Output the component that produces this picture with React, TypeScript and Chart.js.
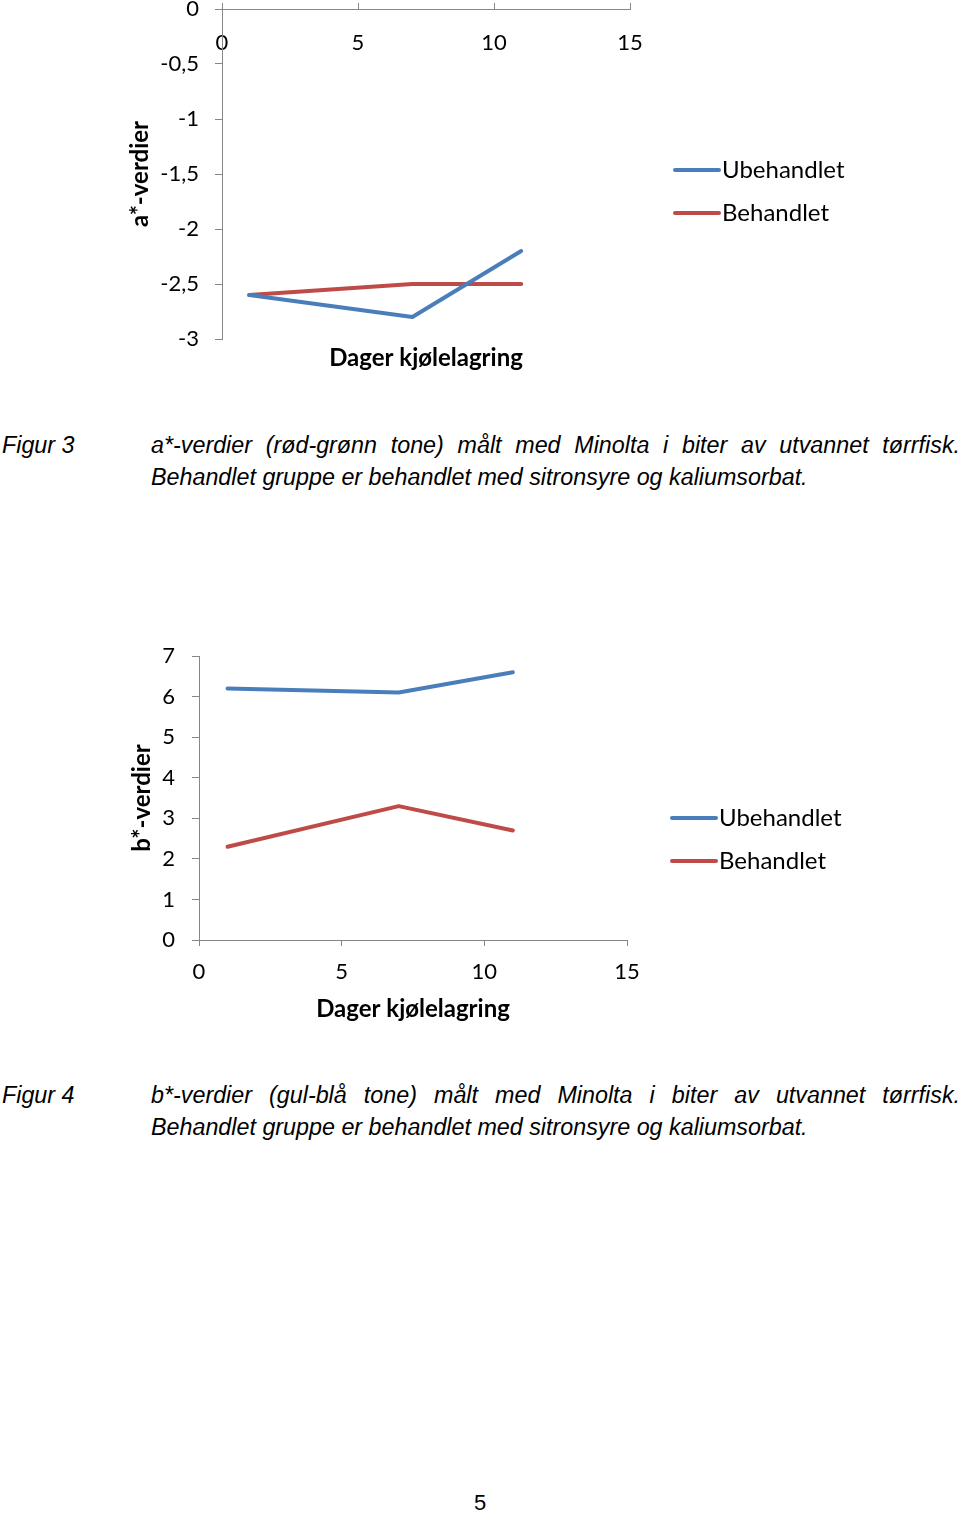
import React, { useEffect, useRef } from "react";
import { Chart, registerables } from "chart.js";

Chart.register(...registerables);

const days = [1, 7, 11];
const aUbehandlet = [-2.6, -2.8, -2.2];
const aBehandlet = [-2.6, -2.5, -2.5];
const bUbehandlet = [6.2, 6.1, 6.6];
const bBehandlet = [2.3, 3.3, 2.7];
const seriesNames = ["Ubehandlet", "Behandlet"];
const xTitle = "Dager kjølelagring";
const aTitle = "a*-verdier";
const bTitle = "b*-verdier";
const xTickValues = [0, 5, 10, 15];

const BLUE = "#4a7ebb";
const RED = "#be4b48";
const AXIS = "#868686";
const FONT = "Lato, 'Open Sans', sans-serif";

const fmt = (v: any) => String(v).replace(".", ",");

function legendPlugin(lx: number, y1: number, gap: number) {
  return {
    id: "customLegend",
    afterDraw(chart: any) {
      const ctx = chart.ctx;
      ctx.save();
      chart.data.datasets.forEach((ds: any, i: number) => {
        const y = y1 + i * gap;
        ctx.strokeStyle = ds.borderColor;
        ctx.lineWidth = 4;
        ctx.lineCap = "round";
        ctx.beginPath();
        ctx.moveTo(lx, y);
        ctx.lineTo(lx + 44, y);
        ctx.stroke();
        ctx.fillStyle = "#000";
        ctx.font = `24px ${FONT}`;
        ctx.textBaseline = "middle";
        ctx.textAlign = "left";
        ctx.fillText(ds.label, lx + 47, y);
      });
      ctx.restore();
    },
  };
}

function mkData(u: number[], b: number[]) {
  return {
    datasets: [
      {
        label: seriesNames[0],
        data: days.map((d, i) => ({ x: d, y: u[i] })),
        borderColor: BLUE,
        backgroundColor: BLUE,
        borderWidth: 4,
        pointRadius: 0,
        borderCapStyle: "round",
        borderJoinStyle: "round",
        clip: false,
      },
      {
        label: seriesNames[1],
        data: days.map((d, i) => ({ x: d, y: b[i] })),
        borderColor: RED,
        backgroundColor: RED,
        borderWidth: 4,
        pointRadius: 0,
        borderCapStyle: "round",
        borderJoinStyle: "round",
        clip: false,
      },
    ],
  };
}

const tickFont = { family: FONT, size: 22, lineHeight: 1.2 };
const titleFont = { family: FONT, size: 24, weight: "bold", lineHeight: 1.2 };

const zeroPad = (s: any) => {
  s.paddingTop = 0;
  s.paddingBottom = 0;
  s.paddingLeft = 0;
  s.paddingRight = 0;
};

function ChartA() {
  const ref = useRef<HTMLCanvasElement>(null);
  useEffect(() => {
    const chart = new Chart(ref.current!, {
      type: "line",
      data: mkData(aUbehandlet, aBehandlet) as any,
      options: {
        animation: false,
        responsive: false,
        maintainAspectRatio: false,
        layout: { padding: { left: 126, top: 0, right: 330, bottom: 7 } },
        plugins: { legend: { display: false }, tooltip: { enabled: false } },
        scales: {
          x: {
            type: "linear",
            position: "top",
            min: 0,
            max: 15,
            afterBuildTicks: (s: any) => {
              s.ticks = xTickValues.map((v) => ({ value: v }));
            },
            afterFit: (s: any) => {
              s.height = 9;
              zeroPad(s);
            },
            ticks: { mirror: true, padding: 21, color: "#000", font: tickFont, maxRotation: 0 },
            grid: { drawOnChartArea: false, tickLength: 6, color: AXIS },
            border: { color: AXIS, width: 1 },
          },
          x2: {
            type: "linear",
            position: "bottom",
            min: 0,
            max: 15,
            afterFit: (s: any) => {
              s.height = 34;
              zeroPad(s);
            },
            ticks: { display: false },
            grid: { display: false },
            border: { display: false },
            title: { display: true, text: xTitle, color: "#000", font: titleFont, padding: 0 },
          },
          y: {
            type: "linear",
            position: "left",
            min: -3,
            max: 0,
            ticks: { stepSize: 0.5, padding: 16, color: "#000", font: tickFont, callback: fmt },
            afterFit: (s: any) => {
              s.width = 96;
              zeroPad(s);
            },
            grid: { drawOnChartArea: false, tickLength: 7, color: AXIS },
            border: { color: AXIS, width: 1 },
            title: { display: true, text: aTitle, color: "#000", font: titleFont, padding: 0 },
          },
        },
      } as any,
      plugins: [legendPlugin(675, 170, 43)],
    });
    return () => chart.destroy();
  }, []);
  return (
    <canvas
      ref={ref}
      width={960}
      height={380}
      style={{ position: "absolute", left: 0, top: 0, width: 960, height: 380 }}
    />
  );
}

function ChartB() {
  const ref = useRef<HTMLCanvasElement>(null);
  useEffect(() => {
    const chart = new Chart(ref.current!, {
      type: "line",
      data: mkData(bUbehandlet, bBehandlet) as any,
      options: {
        animation: false,
        responsive: false,
        maintainAspectRatio: false,
        layout: { padding: { left: 128, top: 26, right: 333, bottom: 16 } },
        plugins: { legend: { display: false }, tooltip: { enabled: false } },
        scales: {
          x: {
            type: "linear",
            position: "bottom",
            min: 0,
            max: 15,
            afterBuildTicks: (s: any) => {
              s.ticks = xTickValues.map((v) => ({ value: v }));
            },
            afterFit: (s: any) => {
              s.height = 84;
              zeroPad(s);
            },
            ticks: { padding: 13, color: "#000", font: tickFont, maxRotation: 0 },
            grid: { drawOnChartArea: false, tickLength: 6, color: AXIS },
            border: { color: AXIS, width: 1 },
            title: { display: true, text: xTitle, color: "#000", font: titleFont, padding: 0 },
          },
          y: {
            type: "linear",
            position: "left",
            min: 0,
            max: 7,
            ticks: { stepSize: 1, padding: 17, color: "#000", font: tickFont, callback: fmt },
            afterFit: (s: any) => {
              s.width = 71;
              zeroPad(s);
            },
            grid: { drawOnChartArea: false, tickLength: 7, color: AXIS },
            border: { color: AXIS, width: 1 },
            title: { display: true, text: bTitle, color: "#000", font: titleFont, padding: 0 },
          },
        },
      } as any,
      plugins: [legendPlugin(672, 188, 43)],
    });
    return () => chart.destroy();
  }, []);
  return (
    <canvas
      ref={ref}
      width={960}
      height={410}
      style={{ position: "absolute", left: 0, top: 630, width: 960, height: 410 }}
    />
  );
}

const capFont: React.CSSProperties = {
  fontFamily: "'Liberation Sans', Arial, sans-serif",
  fontStyle: "italic",
  fontSize: 23.3,
  lineHeight: "32px",
  color: "#000",
  whiteSpace: "nowrap",
};

function Caption({ top, label, line1 }: { top: number; label: string; line1: string }) {
  return (
    <>
      <div style={{ ...capFont, position: "absolute", left: 2, top }}>{label}</div>
      <div
        style={{
          ...capFont,
          position: "absolute",
          left: 151,
          top,
          width: 809,
          textAlign: "justify",
          textAlignLast: "justify" as any,
          whiteSpace: "normal",
        }}
      >
        {line1}
      </div>
      <div style={{ ...capFont, position: "absolute", left: 151, top: top + 32 }}>
        Behandlet gruppe er behandlet med sitronsyre og kaliumsorbat.
      </div>
    </>
  );
}

export default function App() {
  return (
    <div
      style={{
        position: "absolute",
        left: 0,
        top: 0,
        width: 960,
        height: 1513,
        background: "#fff",
        overflow: "hidden",
      }}
    >
      <ChartA />
      <Caption
        top={429}
        label="Figur 3"
        line1="a*-verdier (rød-grønn tone) målt med Minolta i biter av utvannet tørrfisk."
      />
      <ChartB />
      <Caption
        top={1079}
        label="Figur 4"
        line1="b*-verdier (gul-blå tone) målt med Minolta i biter av utvannet tørrfisk."
      />
      <div
        style={{
          position: "absolute",
          left: 0,
          width: 960,
          top: 1490,
          textAlign: "center",
          fontFamily: "'Liberation Sans', Arial, sans-serif",
          fontSize: 22,
          lineHeight: "26px",
        }}
      >
        5
      </div>
    </div>
  );
}
